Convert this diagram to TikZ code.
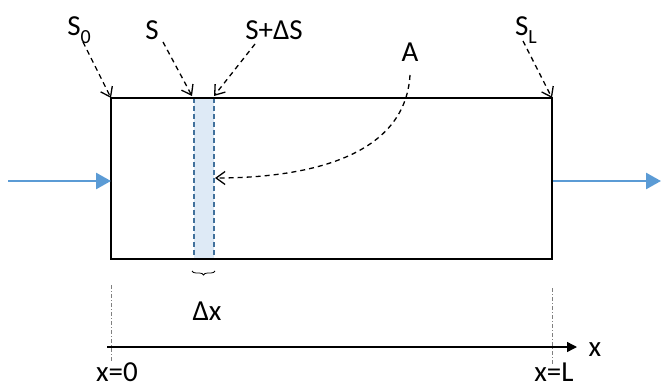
\documentclass[tikz,border=0pt]{standalone}
\usepackage{fontspec}
\setmainfont{Carlito}
\usetikzlibrary{arrows.meta,decorations.pathreplacing}
\definecolor{flowblue}{HTML}{5B9BD5}
\definecolor{bandfill}{HTML}{DEEAF6}
\definecolor{banddash}{HTML}{41719C}
\newcommand{\lowsub}[1]{\raisebox{-0.28em}{\fontsize{20}{24}\selectfont #1}}
\begin{document}
\begin{tikzpicture}[x=1pt,y=-1pt,
  lbl/.style={font=\fontsize{29}{34}\selectfont, inner sep=0pt},
  pointer/.style={draw=black, line width=1.3pt, dash pattern=on 5pt off 4pt, -{Straight Barb[length=9pt,width=13pt,line width=1.3pt]}},
  flow/.style={draw=flowblue, line width=2.7pt, -{Triangle[length=15pt,width=16pt]}},
  guide/.style={draw=gray, line width=0.9pt, dash pattern=on 4pt off 2pt on 1pt off 2pt}]
\useasboundingbox (0,0) rectangle (661,390);
% coordinates
\coordinate (tl) at (111,98);
\coordinate (br) at (552,259);
\coordinate (tr) at (552,98);
\coordinate (bl) at (111,259);
% band
\fill[bandfill] (194,98) rectangle (214,259);
\draw[banddash, line width=1.3pt, dash pattern=on 5pt off 3pt] (194,98) -- (194,259);
\draw[banddash, line width=1.3pt, dash pattern=on 5pt off 3pt] (214,98) -- (214,259);
% main box
\draw[line width=2.2pt] (tl) rectangle (br);
% flow arrows
\coordinate (inL) at (8,181);
\coordinate (inR) at (111,181);
\coordinate (outL) at (553,181);
\coordinate (outR) at (661,181);
\draw[flow] (inL) -- (inR);
\draw[flow] (outL) -- (outR);
% labels
\node[lbl] (s0) at (79,30) {S\lowsub{0}};
\node[lbl] (s) at (152,30) {S};
\node[lbl] (sds) at (274,30) {S+ΔS};
\node[lbl] (a) at (410,52) {A};
\node[lbl] (sl) at (526,30) {S\lowsub{L}};
\coordinate (sTip) at (192,96);
\coordinate (sdsTip) at (214,96);
\coordinate (aTip) at (215,178);
\draw[pointer] (83,42) -- (tl);
\draw[pointer] (163,42) -- (sTip);
\draw[pointer] (255,44) -- (sdsTip);
\draw[pointer] (523,41) -- (tr);
\draw[pointer] (410,75) .. controls (405,160) and (300,178) .. (aTip);
% brace
\draw[line width=0.8pt, decorate, decoration={brace, mirror, amplitude=4pt, aspect=0.5}] (192,271) -- (215,271);
\node[lbl] (dx) at (207,311) {Δx};
% axis
\coordinate (ax0) at (107,347);
\coordinate (ax1) at (577,347);
\draw[line width=1.4pt, -{Triangle[length=10pt,width=10pt]}] (ax0) -- (ax1);
\node[lbl] (xl) at (595,350) {x};
\draw[guide] (111,285) -- (111,362);
\draw[guide] (552,288) -- (552,365);
\node[lbl] (x0) at (117,372) {x=0};
\node[lbl] (xL) at (554,372) {x=L};
\end{tikzpicture}
\end{document}
